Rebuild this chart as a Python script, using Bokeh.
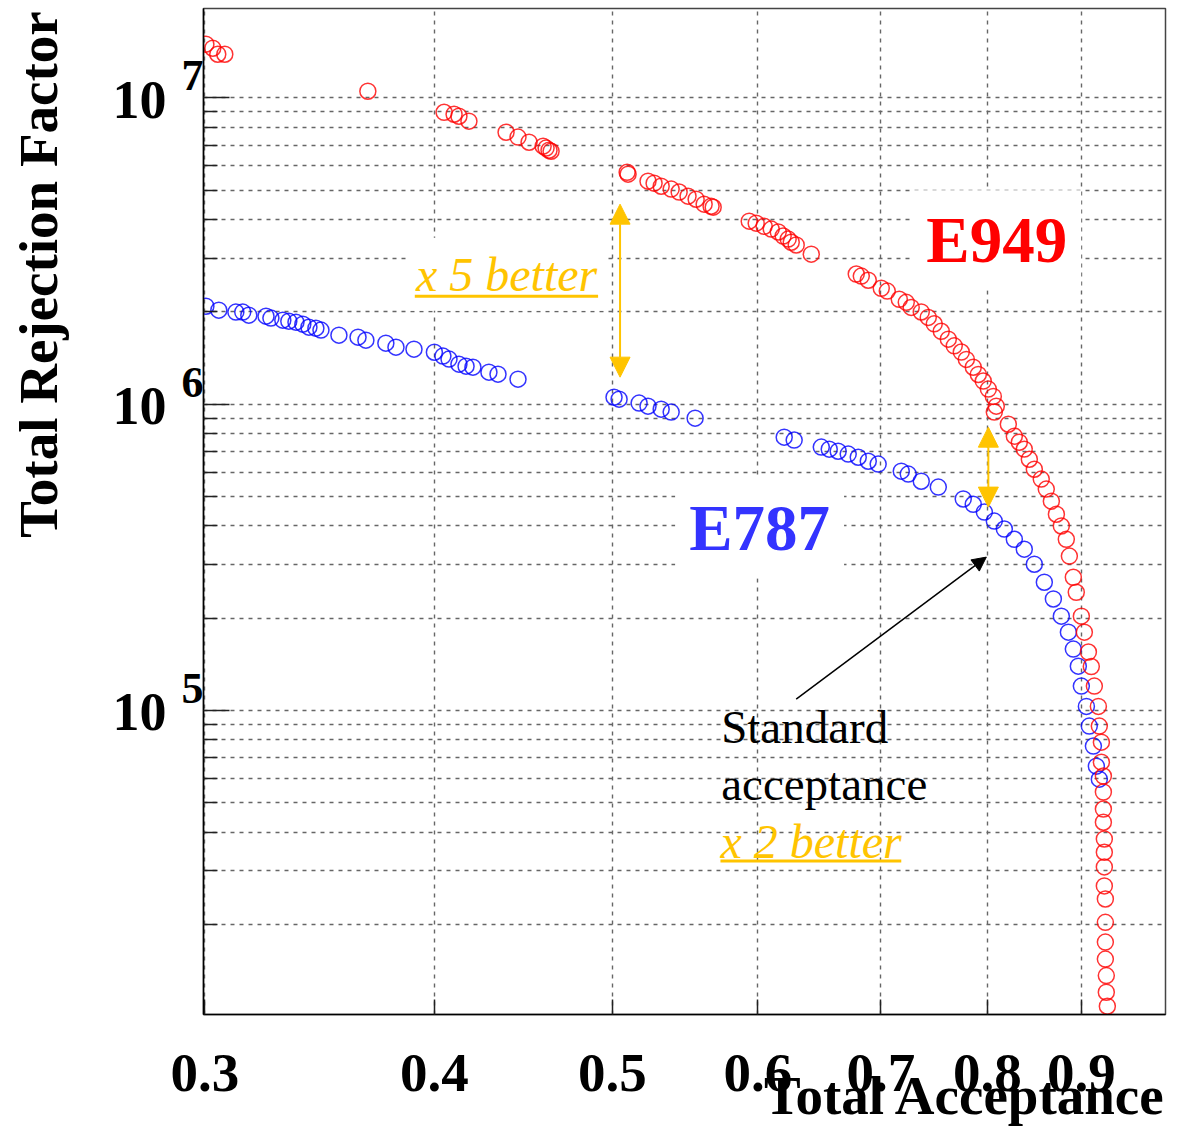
import math
from bokeh.plotting import figure
from bokeh.models import (FixedTicker, Label, Arrow, NormalHead, CustomJSTickFormatter,
                          PrintfTickFormatter, Range1d, LogAxis)
from bokeh.embed import file_html
from bokeh.resources import INLINE

# ---------------- data ----------------
e949_acc = [0.3004, 0.3030, 0.3049, 0.3076, 0.368,
            0.4049, 0.410, 0.4125, 0.4177, 0.4376, 0.4442, 0.4504, 0.4584, 0.4601, 0.4618, 0.4630,
            0.5093, 0.5099, 0.5228, 0.5268, 0.5315, 0.5382, 0.5436, 0.5497, 0.5553, 0.5609, 0.5658, 0.5673,
            0.5935, 0.5987, 0.6047, 0.6101, 0.6155, 0.6193, 0.6232, 0.6256, 0.6295, 0.6415,
            0.6787, 0.6830, 0.6890, 0.7003, 0.7056, 0.7163, 0.7226, 0.7271, 0.7363, 0.7428,
            0.7484, 0.7550, 0.7617, 0.7674, 0.7742, 0.7791, 0.7859, 0.7909, 0.7958, 0.8009,
            0.8059, 0.8069, 0.8089, 0.8212, 0.8274, 0.8326, 0.8378, 0.8431, 0.8484, 0.8558,
            0.8612, 0.8667, 0.8722, 0.8776, 0.8831, 0.8865, 0.8909, 0.8942, 0.8999, 0.9033,
            0.9079, 0.9112, 0.9147, 0.9193, 0.9204, 0.9228, 0.9228, 0.9251, 0.9251, 0.9251,
            0.9251, 0.9262, 0.9262, 0.9262, 0.9262, 0.9274, 0.9274, 0.9274, 0.9274, 0.9285,
            0.9285, 0.9297]
e949_rej = [1.499e7, 1.454e7, 1.390e7, 1.390e7, 1.052e7,
            8.98e6, 8.85e6, 8.72e6, 8.40e6, 7.73e6, 7.45e6, 7.17e6, 6.96e6, 6.86e6, 6.75e6, 6.70e6,
            5.72e6, 5.64e6, 5.35e6, 5.27e6, 5.15e6, 5.04e6, 4.93e6, 4.78e6, 4.67e6, 4.50e6, 4.43e6, 4.40e6,
            3.96e6, 3.90e6, 3.81e6, 3.73e6, 3.65e6, 3.54e6, 3.46e6, 3.38e6, 3.31e6, 3.09e6,
            2.66e6, 2.62e6, 2.54e6, 2.39e6, 2.34e6, 2.20e6, 2.15e6, 2.07e6, 2.00e6, 1.92e6,
            1.83e6, 1.73e6, 1.63e6, 1.55e6, 1.48e6, 1.40e6, 1.32e6, 1.25e6, 1.19e6, 1.12e6,
            1.06e6, 9.42e5, 9.85e5, 8.60e5, 7.86e5, 7.51e5, 7.13e5, 6.61e5, 6.13e5, 5.69e5,
            5.28e5, 4.82e5, 4.37e5, 4.00e5, 3.62e5, 3.19e5, 2.72e5, 2.43e5, 2.03e5, 1.80e5,
            1.55e5, 1.39e5, 1.20e5, 1.03e5, 8.88e4, 7.87e4, 6.77e4, 6.10e4, 5.41e4, 4.76e4,
            4.31e4, 3.80e4, 3.44e4, 3.08e4, 2.67e4, 2.42e4, 2.03e4, 1.75e4, 1.54e4, 1.36e4,
            1.20e4, 1.08e4]

e787_acc = [0.3004, 0.3053, 0.3119, 0.3146, 0.3170, 0.3239, 0.3259, 0.3308, 0.3333, 0.3363,
            0.3392, 0.3418, 0.3448, 0.3470, 0.3549, 0.3635, 0.3671, 0.3764, 0.3812, 0.3899,
            0.4000, 0.4043, 0.4074, 0.4125, 0.4162, 0.4198, 0.4283, 0.4332, 0.4442,
            0.5010, 0.5042, 0.5170, 0.5228, 0.5315, 0.5382, 0.5546,
            0.6201, 0.6279, 0.6496, 0.6561, 0.6635, 0.6719, 0.6804, 0.6890, 0.6976, 0.7181,
            0.7244, 0.7363, 0.7522, 0.7761, 0.7859, 0.7969, 0.8069, 0.8171, 0.8274, 0.8378,
            0.8484, 0.8591, 0.8689, 0.8776, 0.8854, 0.8909, 0.8965, 0.8999, 0.9056, 0.9089,
            0.9136, 0.9170, 0.9204]
e787_rej = [2.089e6, 2.028e6, 1.998e6, 1.998e6, 1.953e6, 1.938e6, 1.910e6, 1.881e6, 1.867e6, 1.853e6,
            1.825e6, 1.784e6, 1.771e6, 1.745e6, 1.680e6, 1.655e6, 1.618e6, 1.582e6, 1.535e6, 1.512e6,
            1.478e6, 1.435e6, 1.403e6, 1.351e6, 1.331e6, 1.321e6, 1.272e6, 1.253e6, 1.207e6,
            1.054e6, 1.038e6, 1.008e6, 9.85e5, 9.63e5, 9.42e5, 9.00e5,
            7.80e5, 7.63e5, 7.24e5, 7.13e5, 7.02e5, 6.87e5, 6.71e5, 6.51e5, 6.37e5, 6.04e5,
            5.91e5, 5.60e5, 5.36e5, 4.90e5, 4.71e5, 4.44e5, 4.15e5, 3.91e5, 3.62e5, 3.36e5,
            3.00e5, 2.62e5, 2.31e5, 2.03e5, 1.80e5, 1.585e5, 1.394e5, 1.20e5, 1.03e5, 8.88e4,
            7.64e4, 6.57e4, 5.96e4]

x_ticks = [0.3, 0.4, 0.5, 0.6, 0.7, 0.8, 0.9]
y_major = [1e5, 1e6, 1e7]
y_minor = [m * 10 ** e for e in (4, 5, 6) for m in range(2, 10)]
# exponent labels sit a little above each decade line
y_exp_pos = [1.18e5, 1.18e6, 1.18e7]
y_ten_pos = [0.985e5, 0.985e6, 0.985e7]
x_title_pos = [0.7781]
y_title_pos = [2.65e6]

FONT = "Liberation Serif"
GOLD = "#FFC400"

# ---------------- figure ----------------
p = figure(width=1170, height=1133, x_axis_type="log", y_axis_type="log",
           x_range=Range1d(0.2995, 1.0), y_range=Range1d(1.015e4, 1.96e7),
           output_backend="svg", toolbar_location=None,
           min_border_left=203, min_border_right=5, min_border_top=8, min_border_bottom=119)
p.background_fill_color = "white"
p.border_fill_color = "white"
p.outline_line_color = "#444444"
p.outline_line_width = 1.5


def bare(ax):
    ax.axis_line_color = None
    ax.major_tick_line_color = None
    ax.minor_tick_line_color = None
    ax.major_tick_in = 0
    ax.major_tick_out = 0
    ax.minor_tick_in = 0
    ax.minor_tick_out = 0
    ax.major_label_text_font = FONT
    ax.major_label_text_font_style = "bold"
    ax.major_label_text_color = "black"


# main axes
p.xaxis.ticker = FixedTicker(ticks=x_ticks)
p.xaxis.formatter = PrintfTickFormatter(format="%.1f")
p.yaxis.ticker = FixedTicker(ticks=y_major, minor_ticks=y_minor)
p.yaxis.formatter = CustomJSTickFormatter(code="return '';")
for ax in (p.xaxis[0], p.yaxis[0]):
    ax.axis_line_color = "black"
    ax.axis_line_width = 1.5
    ax.major_tick_line_color = "#222222"
    ax.major_tick_line_width = 1.5
    ax.minor_tick_line_color = "#222222"
    ax.minor_tick_line_width = 1.5
    ax.major_tick_out = 0
    ax.minor_tick_out = 0
    ax.major_label_text_font = FONT
    ax.major_label_text_font_style = "bold"
    ax.major_label_text_color = "black"
p.xaxis.major_tick_in = 15
p.xaxis.minor_tick_in = 0
p.xaxis.major_label_text_font_size = "55px"
p.xaxis.major_label_standoff = 40
p.yaxis.major_tick_in = 26
p.yaxis.minor_tick_in = 14
p.yaxis.major_label_standoff = 0

# exponent labels (closest to the frame)
exp_axis = LogAxis(ticker=FixedTicker(ticks=y_exp_pos),
                   formatter=CustomJSTickFormatter(code="return String(Math.floor(Math.log10(tick)));"))
bare(exp_axis)
exp_axis.major_label_text_font_size = "44px"
exp_axis.major_label_standoff = 0
p.add_layout(exp_axis, "left")

# mantissa "10"
ten_axis = LogAxis(ticker=FixedTicker(ticks=y_ten_pos),
                   formatter=CustomJSTickFormatter(code="return '10';"))
bare(ten_axis)
ten_axis.major_label_text_font_size = "54px"
ten_axis.major_label_standoff = 12
p.add_layout(ten_axis, "left")

# y title
ytitle_axis = LogAxis(ticker=FixedTicker(ticks=y_title_pos),
                      formatter=CustomJSTickFormatter(code="return 'Total Rejection Factor';"))
bare(ytitle_axis)
ytitle_axis.major_label_text_font_size = "55px"
ytitle_axis.major_label_orientation = "vertical"
ytitle_axis.major_label_standoff = 40
p.add_layout(ytitle_axis, "left")

# x title
xtitle_axis = LogAxis(ticker=FixedTicker(ticks=x_title_pos),
                      formatter=CustomJSTickFormatter(code="return 'Total Acceptance';"))
bare(xtitle_axis)
xtitle_axis.major_label_text_font_size = "55px"
xtitle_axis.major_label_standoff = -29
p.add_layout(xtitle_axis, "below")

# grids
for g in (p.xgrid[0], p.ygrid[0]):
    g.grid_line_color = "#666666"
    g.grid_line_width = 1.4
    g.grid_line_dash = "4 5"
p.ygrid.minor_grid_line_color = "#666666"
p.ygrid.minor_grid_line_width = 1.4
p.ygrid.minor_grid_line_dash = "4 5"

# data points
p.scatter(e787_acc, e787_rej, marker="circle", size=16, fill_color=None,
          line_color="#0000FF", line_width=1.5, line_alpha=0.8)
p.scatter(e949_acc, e949_rej, marker="circle", size=16, fill_color=None,
          line_color="#FF0000", line_width=1.5, line_alpha=0.8)

# text annotations
p.add_layout(Label(x=0.741, y=2.93e6, x_offset=-14, y_offset=21, text="E949",
                   text_align="left", text_baseline="alphabetic",
                   text_font=FONT, text_font_style="bold", text_font_size="65px",
                   text_color="#FF0000", background_fill_color="white", padding=14))
p.add_layout(Label(x=0.5505, y=3.36e5, x_offset=-14, y_offset=21, text="E787",
                   text_align="left", text_baseline="alphabetic",
                   text_font=FONT, text_font_style="bold", text_font_size="65px",
                   text_color="#3333FF", background_fill_color="white", padding=14))
p.add_layout(Label(x=0.3909, y=2.375e6, x_offset=-10, y_offset=15, text="x 5 better",
                   text_align="left", text_baseline="alphabetic",
                   text_font=FONT, text_font_style="italic", text_font_size="48px",
                   text_color=GOLD, background_fill_color="white", padding=10))
p.segment(x0=[0.3903], y0=[2.253e6], x1=[0.4911], y1=[2.253e6], line_color=GOLD,
          line_width=3, level="overlay")

p.add_layout(Label(x=0.5730, y=7.87e4, y_offset=15, text="Standard", text_align="left",
                   text_baseline="alphabetic", text_font=FONT, text_font_size="47px",
                   text_color="black"))
p.add_layout(Label(x=0.5730, y=5.13e4, y_offset=15, text="acceptance", text_align="left",
                   text_baseline="alphabetic", text_font=FONT, text_font_size="47px",
                   text_color="black"))
p.add_layout(Label(x=0.5725, y=3.34e4, y_offset=15, text="x 2 better", text_align="left",
                   text_baseline="alphabetic", text_font=FONT, text_font_style="italic",
                   text_font_size="48px", text_color=GOLD))
p.segment(x0=[0.5725], y0=[3.22e4], x1=[0.7181], y1=[3.22e4], line_color=GOLD,
          line_width=3, level="overlay")

# arrows
p.add_layout(Arrow(x_start=0.5048, y_start=1.225e6, x_end=0.5048, y_end=4.50e6,
                   line_color=GOLD, line_width=2,
                   start=NormalHead(size=20, fill_color=GOLD, line_color=GOLD),
                   end=NormalHead(size=20, fill_color=GOLD, line_color=GOLD)))
p.add_layout(Arrow(x_start=0.8009, y_start=4.61e5, x_end=0.8009, y_end=8.41e5,
                   line_color=GOLD, line_width=2,
                   start=NormalHead(size=20, fill_color=GOLD, line_color=GOLD),
                   end=NormalHead(size=20, fill_color=GOLD, line_color=GOLD)))
p.add_layout(Arrow(x_start=0.6295, y_start=1.088e5, x_end=0.7989, y_end=3.165e5,
                   line_color="black", line_width=1.5,
                   end=NormalHead(size=14, fill_color="black", line_color="black")))

open("out.html", "w").write(file_html(p, INLINE))
